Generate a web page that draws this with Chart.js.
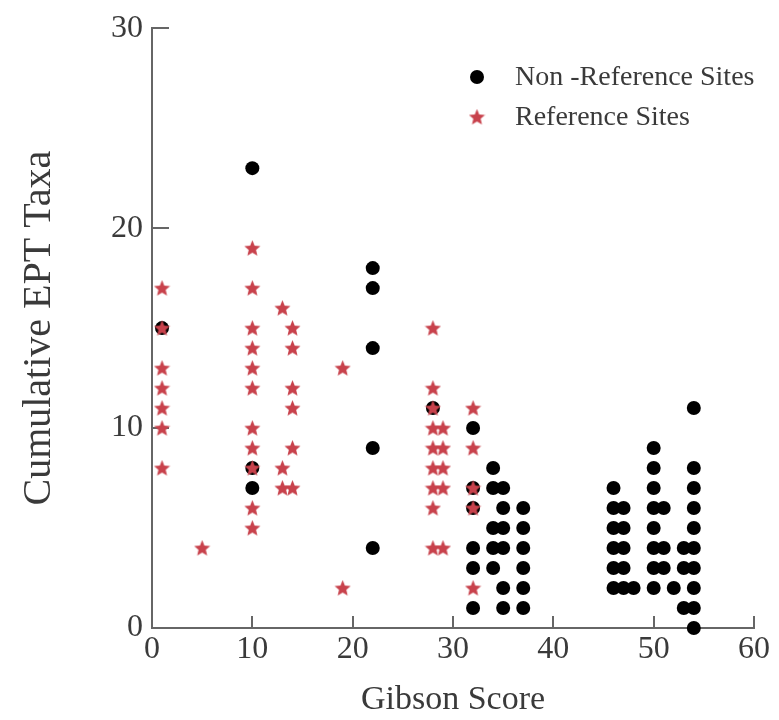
<!DOCTYPE html>
<html>
<head>
<meta charset="utf-8">
<script src="https://cdn.jsdelivr.net/npm/chart.js@4"></script>
<style>
  body { margin: 0; background: #fff; }
  #wrap { width: 779px; height: 720px; }
</style>
</head>
<body>
<div id="wrap"><canvas id="eptChart" width="779" height="720"></canvas></div>
<script>
// Non-reference sites (black dots)
const nonRefScore = [1, 10, 10, 10, 22, 22, 22, 22, 22, 28, 32, 32, 32, 32, 32, 32,
  34, 34, 34, 34, 34, 35, 35, 35, 35, 35, 35, 37, 37, 37, 37, 37, 37,
  46, 46, 46, 46, 46, 46, 47, 47, 47, 47, 47, 48,
  50, 50, 50, 50, 50, 50, 50, 50, 51, 51, 51, 52, 53, 53, 53,
  54, 54, 54, 54, 54, 54, 54, 54, 54, 54]
const nonRefEpt = [15, 23, 8, 7, 18, 17, 14, 9, 4, 11, 10, 7, 6, 4, 3, 1,
  8, 7, 5, 4, 3, 7, 6, 5, 4, 2, 1, 6, 5, 4, 3, 2, 1,
  7, 6, 5, 4, 3, 2, 6, 5, 4, 3, 2, 2,
  9, 8, 7, 6, 5, 4, 3, 2, 6, 4, 3, 2, 4, 3, 1,
  11, 8, 7, 6, 5, 4, 3, 2, 1, 0]

// Reference sites (red stars)
const refScore = [1, 1, 1, 1, 1, 1, 1, 5,
  10, 10, 10, 10, 10, 10, 10, 10, 10, 10, 10,
  13, 13, 13, 14, 14, 14, 14, 14, 14, 19, 19,
  28, 28, 28, 28, 28, 28, 28, 28, 28, 29, 29, 29, 29, 29,
  32, 32, 32, 32, 32]
const refEpt = [17, 15, 13, 12, 11, 10, 8, 4,
  19, 17, 15, 14, 13, 12, 10, 9, 8, 6, 5,
  16, 8, 7, 15, 14, 12, 11, 9, 7, 13, 2,
  15, 12, 11, 10, 9, 8, 7, 6, 4, 10, 9, 8, 7, 4,
  11, 9, 7, 6, 2]

const xTicks = [0, 10, 20, 30, 40, 50, 60]
const yTicks = [0, 10, 20, 30]

const seriesLabels = ["Non -Reference Sites", "Reference Sites"]

const inkColor = "#3a3a3a"
const axisColor = "#666"
const starColor = "#c8424c"

Chart.defaults.font.family = "'Liberation Serif', 'Times New Roman', serif"
Chart.defaults.color = inkColor

// filled five point star used as marker
function makeStar(size, color) {
  const c = document.createElement("canvas")
  c.width = size
  c.height = size
  const g = c.getContext("2d")
  const cx = size / 2, cy = size / 2 + 0.6
  const ro = size / 2, ri = ro * 0.45
  g.beginPath()
  for (let i = 0; i < 10; i++) {
    const r = i % 2 === 0 ? ro : ri
    const a = -Math.PI / 2 + i * Math.PI / 5
    g.lineTo(cx + r * Math.cos(a), cy + r * Math.sin(a))
  }
  g.closePath()
  g.fillStyle = color
  g.fill()
  return c
}
const starMarker = makeStar(17, starColor)

// ticks pointing into the plot
const inwardTicks = {
  id: "inwardTicks",
  beforeDatasetsDraw(chart) {
    const { ctx, scales: { x, y } } = chart
    ctx.save()
    ctx.strokeStyle = axisColor
    ctx.lineWidth = 2
    ctx.beginPath()
    xTicks.slice(1).forEach((v) => {
      const px = Math.round(x.getPixelForValue(v))
      ctx.moveTo(px, y.bottom)
      ctx.lineTo(px, y.bottom - 12)
    })
    yTicks.slice(1).forEach((v) => {
      const py = Math.round(y.getPixelForValue(v))
      ctx.moveTo(x.left, py)
      ctx.lineTo(x.left + 17, py)
    })
    ctx.stroke()
    ctx.restore()
  },
}

// legend in the upper right of the plot
const cornerLegend = {
  id: "cornerLegend",
  afterDraw(chart) {
    const { ctx } = chart
    const mx = 477, tx = 515
    const rows = [77, 117]
    ctx.save()
    ctx.font = "28px 'Liberation Serif', 'Times New Roman', serif"
    ctx.textBaseline = "middle"
    chart.data.datasets.forEach((ds, i) => {
      const yy = rows[i]
      if (i === 0) {
        ctx.beginPath()
        ctx.arc(mx, yy, 7, 0, Math.PI * 2)
        ctx.fillStyle = "#000"
        ctx.fill()
      } else {
        ctx.drawImage(starMarker, mx - 8.5, yy - 8.5)
      }
      ctx.fillStyle = inkColor
      ctx.fillText(ds.label, tx, yy + 1)
    })
    ctx.restore()
  },
}

const toPoints = (xs, ys) => xs.map((v, i) => ({ x: v, y: ys[i] }))

new Chart(document.getElementById("eptChart"), {
  type: "scatter",
  data: {
    datasets: [
      {
        label: seriesLabels[0],
        data: toPoints(nonRefScore, nonRefEpt),
        pointStyle: "circle",
        pointRadius: 7,
        backgroundColor: "#000",
        borderColor: "#000",
        borderWidth: 0,
        clip: false,
        order: 1,
      },
      {
        label: seriesLabels[1],
        data: toPoints(refScore, refEpt),
        pointStyle: starMarker,
        backgroundColor: starColor,
        borderColor: starColor,
        clip: false,
        order: 0,
      },
    ],
  },
  options: {
    responsive: false,
    animation: false,
    events: [],
    layout: { padding: { top: 25, right: 25, left: 0, bottom: 0 } },
    plugins: {
      legend: { display: false },
      tooltip: { enabled: false },
    },
    scales: {
      x: {
        type: "linear",
        min: 0,
        max: 60,
        afterBuildTicks: (s) => { s.ticks = xTicks.map((v) => ({ value: v })) },
        afterFit: (s) => { s.height = 92 },
        grid: { display: false, drawTicks: false },
        border: { display: true, color: axisColor, width: 2 },
        ticks: { padding: 2, font: { size: 32 }, color: inkColor, maxRotation: 0 },
        title: {
          display: true,
          text: "Gibson Score",
          font: { size: 34 },
          color: inkColor,
          padding: { top: 5, bottom: 0 },
        },
      },
      y: {
        type: "linear",
        min: 0,
        max: 30,
        afterBuildTicks: (s) => { s.ticks = yTicks.map((v) => ({ value: v })) },
        afterFit: (s) => { s.width = 152 },
        grid: { display: false, drawTicks: false },
        border: { display: true, color: axisColor, width: 2 },
        ticks: { padding: 9, font: { size: 32 }, color: inkColor },
        title: {
          display: true,
          text: "Cumulative EPT Taxa",
          font: { size: 40 },
          color: inkColor,
          padding: { top: 15, bottom: 0 },
        },
      },
    },
  },
  plugins: [inwardTicks, cornerLegend],
})
</script>
</body>
</html>
